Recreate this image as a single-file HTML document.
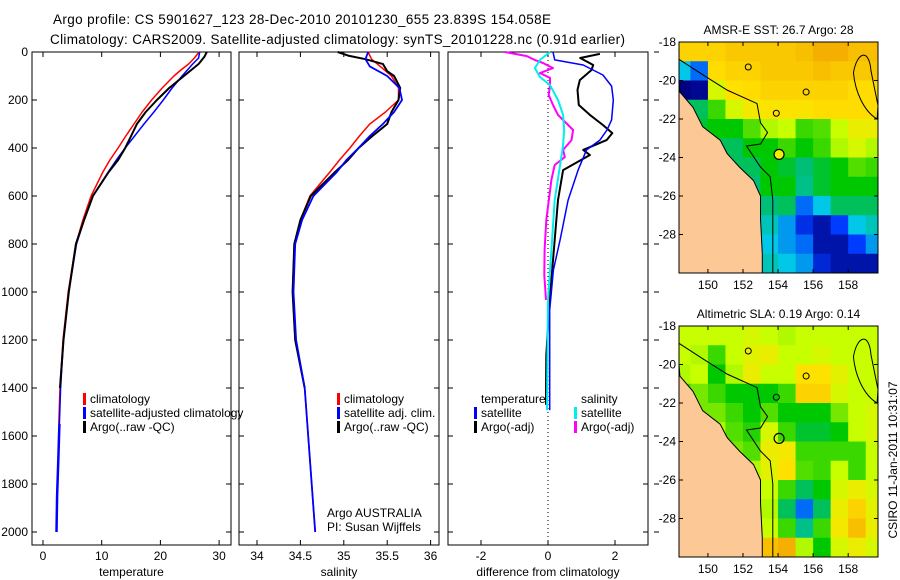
<!DOCTYPE html>
<html><head><meta charset="utf-8"><style>
body{margin:0;background:#fff}
svg{display:block;font-family:"Liberation Sans",sans-serif}
</style></head><body>
<svg id="s" width="900" height="580" viewBox="0 0 900 580" xmlns="http://www.w3.org/2000/svg">
<text x="53" y="24" font-size="13.5" textLength="498">Argo profile: CS 5901627_123 28-Dec-2010 20101230_655 23.839S 154.058E</text>
<text x="50" y="44" font-size="13.5" textLength="575">Climatology: CARS2009. Satellite-adjusted climatology: synTS_20101228.nc (0.91d earlier)</text>
<g id="g"></g>
</svg>
<script>
// ---------- data ----------
const tDepth=[0,25,50,75,100,150,200,250,300,350,400,450,500,600,700,800,1000,1200,1400,1550];
const tClim=[26.6,25.8,24.8,23.5,22.3,20.3,18.5,16.9,15.5,14.1,12.8,11.4,10.2,8.2,6.8,5.6,4.3,3.4,2.9,2.7];
const tSat=[26.7,26.5,25.5,24.6,23.7,22.0,20.5,18.9,17.2,15.6,14.0,12.5,11.1,8.5,7.0,5.7,4.4,3.5,3.0,2.8];
const aDepth=[0,20,50,100,150,200,250,300,350,400,450,500,600,700,800,1000,1200,1400];
const tArgo=[27.9,27.5,26.5,24.0,21.5,19.4,17.5,16.0,15.0,14.0,12.8,11.2,8.5,7.0,5.6,4.4,3.5,2.9];
const tSatDeepDepth=[1550,1700,1850,2000];
const tSatDeep=[2.8,2.6,2.4,2.3];
const sDepth=[0,30,60,100,150,200,250,300,350,400,450,500,600,700,800,1000,1200,1400,1600,1800,2000];
const sClim=[35.28,35.32,35.42,35.55,35.63,35.63,35.48,35.30,35.18,35.07,34.95,34.84,34.61,34.50,34.43,34.41,34.44,34.55,34.59,34.63,34.67];
const sSat=[35.28,35.25,35.30,35.50,35.64,35.67,35.58,35.45,35.30,35.17,35.03,34.92,34.65,34.52,34.44,34.42,34.45,34.55,34.59,34.63,34.67];
const sArgoDepth=[0,15,30,50,80,100,150,200,250,300,350,400,450,500,600,700,800,1000,1200,1400];
const sArgo=[34.93,35.05,35.25,35.45,35.50,35.58,35.65,35.63,35.55,35.50,35.33,35.17,35.05,34.90,34.62,34.50,34.43,34.41,34.44,34.55];
const dTSatDepth=[0,33,54,96,142,200,283,325,367,408,492,617,783,908,1075,1250,1492];
const dTSat=[0.15,0.2,1.05,1.64,1.9,1.95,1.9,1.76,1.55,1.15,0.9,0.6,0.36,0.16,0.05,0.05,0.05];
const dTArgoDepth=[8,25,54,75,117,158,221,262,304,338,367,408,429,492,617,783,1033,1262,1408,1470];
const dTArgo=[1.55,0.96,1.35,1.3,0.95,0.88,0.92,1.25,1.64,1.92,1.75,1.05,1.25,0.45,0.3,0.2,0.05,-0.05,-0.06,-0.06];
const dSSatDepth=[0,33,67,104,138,200,262,325,388,471,617,825,1033,1492];
const dSSat=[0.06,-0.24,-0.39,-0.24,0.06,0.3,0.45,0.48,0.45,0.36,0.2,0.1,0.0,-0.03];
const dSArgoDepth=[0,17,33,46,67,88,108,138,179,221,262,304,325,367,408,438,471,533,700,825,929,1033];
const dSArgo=[-1.28,-0.63,-0.4,-0.15,0.15,-0.24,0.06,0.06,0.02,0.15,0.3,0.6,0.75,0.7,0.45,0.5,0.2,0.1,-0.05,-0.1,-0.11,-0.06];
const depthTicks=[0,200,400,600,800,1000,1200,1400,1600,1800,2000];
const tTicks=[0,10,20,30], sTicks=[34,34.5,35,35.5,36], dTicks=[-2,0,2];
const latTicks=[18,20,22,24,26,28], lonTicks=[150,152,154,156,158];
const lonCells=[148.35,149,150,151,152,153,154,155,156,157,158,159,159.7];
const latCells=[18,19,20,21,22,23,24,25,26,27,28,29,30];
const sstGrid=[
[0.88,0.88,0.88,0.9,0.9,0.9,0.9,0.92,0.95,0.95,0.92,0.92],
[0.3,0.2,0.86,0.88,0.88,0.9,0.9,0.9,0.92,0.9,0.9,0.9],
[0.0,0.02,0.75,0.85,0.86,0.88,0.88,0.88,0.88,0.88,0.86,0.86],
[0.45,0.45,0.6,0.75,0.82,0.84,0.84,0.84,0.86,0.86,0.86,0.86],
[0.5,0.5,0.55,0.55,0.62,0.7,0.72,0.6,0.62,0.72,0.8,0.8],
[0.45,0.45,0.45,0.45,0.55,0.55,0.6,0.55,0.6,0.7,0.75,0.7],
[0.45,0.45,0.45,0.45,0.45,0.55,0.5,0.42,0.5,0.55,0.62,0.6],
[0.42,0.42,0.42,0.42,0.42,0.55,0.55,0.4,0.5,0.55,0.55,0.55],
[0.38,0.38,0.38,0.38,0.38,0.42,0.45,0.2,0.3,0.45,0.45,0.45],
[0.35,0.35,0.35,0.35,0.35,0.35,0.25,0.12,0.05,0.15,0.3,0.35],
[0.38,0.38,0.38,0.38,0.38,0.3,0.25,0.2,0.05,0.05,0.15,0.25],
[0.4,0.4,0.4,0.4,0.4,0.35,0.3,0.25,0.1,0.05,0.05,0.05]];
const slaGrid=[
[0.72,0.72,0.72,0.72,0.75,0.72,0.7,0.72,0.72,0.72,0.72,0.72],
[0.72,0.7,0.6,0.72,0.78,0.8,0.72,0.72,0.75,0.72,0.72,0.72],
[0.7,0.72,0.55,0.7,0.8,0.72,0.72,0.85,0.85,0.78,0.72,0.72],
[0.6,0.65,0.6,0.55,0.55,0.55,0.6,0.88,0.88,0.75,0.72,0.72],
[0.65,0.65,0.65,0.6,0.55,0.62,0.55,0.55,0.55,0.65,0.72,0.75],
[0.7,0.7,0.7,0.62,0.58,0.75,0.6,0.5,0.5,0.55,0.72,0.75],
[0.7,0.7,0.7,0.65,0.62,0.8,0.82,0.6,0.6,0.6,0.6,0.72],
[0.72,0.72,0.72,0.72,0.7,0.78,0.85,0.62,0.6,0.72,0.6,0.72],
[0.8,0.8,0.8,0.78,0.78,0.72,0.6,0.45,0.55,0.75,0.8,0.75],
[0.85,0.85,0.85,0.82,0.8,0.7,0.45,0.2,0.45,0.8,0.88,0.78],
[0.85,0.85,0.85,0.82,0.82,0.72,0.6,0.4,0.6,0.82,0.92,0.8],
[0.85,0.85,0.85,0.85,0.82,0.92,0.95,0.7,0.55,0.75,0.8,0.75]];
const coastLon=[148.35,148.4,149.15,149.7,150.7,151.1,151.8,152.6,153.0,153.0,153.1,153.1];
const coastLat=[20.0,20.6,21.4,22.4,23.1,23.8,24.5,25.2,26.0,27.2,29.0,30.0];
const shelfLon=[148.35,149.7,151.1,152.8,153.0,153.4,153.0,152.2,153.0,153.55,153.7,153.7];
const shelfLat=[18.9,19.7,20.5,21.2,22.2,22.7,23.3,23.4,24.5,25.0,26.2,30.0];
const floatLon=154.058, floatLat=23.839;

// ---------- helpers ----------
const NS="http://www.w3.org/2000/svg";
const G=document.getElementById('g');
function mk(tag,attrs,parent){const e=document.createElementNS(NS,tag);for(const k in attrs)e.setAttribute(k,attrs[k]);(parent||G).appendChild(e);return e;}
const Y0=52, YS=0.24, PB=545;
const yD=d=>Y0+d*YS;
const panels=[
 {x0:32,x1:231,f:v=>43+v*5.87,ticks:tTicks,label:'temperature',name:'temperature-panel'},
 {x0:239,x1:439,f:v=>257+(v-34)*86.8,ticks:sTicks,label:'salinity',name:'salinity-panel'},
 {x0:448,x1:648,f:v=>548+v*33.5,ticks:dTicks,label:'difference from climatology',name:'difference-panel'}];
function line(fx,xs,ds,color,w,name){
  const pts=xs.map((v,i)=>fx(v).toFixed(1)+','+yD(ds[i]).toFixed(1)).join(' ');
  const p=mk('polyline',{points:pts,fill:'none',stroke:color,'stroke-width':w,'stroke-linejoin':'round'});
  
  
}
panels.forEach((P,pi)=>{
  const r=mk('rect',{x:P.x0,y:Y0,width:P.x1-P.x0,height:PB-Y0,fill:'#fff',stroke:'#000','stroke-width':1});
  
  
  depthTicks.forEach(d=>{
    mk('line',{x1:P.x0,x2:P.x0+5,y1:yD(d),y2:yD(d),stroke:'#000'});
    mk('line',{x1:P.x1,x2:P.x1-5,y1:yD(d),y2:yD(d),stroke:'#000'});
    if(pi==2) mk('line',{x1:P.x1+6,x2:P.x1+11,y1:yD(d),y2:yD(d),stroke:'#000'});
    if(pi==0){const t=mk('text',{x:P.x0-4,y:yD(d)+4,'font-size':12,'text-anchor':'end'});t.textContent=d;
      
      }
  });
  P.ticks.forEach(v=>{
    const x=P.f(v);
    mk('line',{x1:x,x2:x,y1:PB,y2:PB-5,stroke:'#000'});
    mk('line',{x1:x,x2:x,y1:Y0,y2:Y0+5,stroke:'#000'});
    const t=mk('text',{x:x,y:560,'font-size':12,'text-anchor':'middle'});t.textContent=v;
    
    
  });
  const t=mk('text',{x:(P.x0+P.x1)/2,y:576,'font-size':12,'text-anchor':'middle'});t.textContent=P.label;
  
  
});
const [P1,P2,P3]=panels;
line(P1.f,tClim,tDepth,'#f00',1.5,'temperature-climatology-line');
line(P1.f,tSat,tDepth,'#00f',1.5,'temperature-satellite-line');
line(P1.f,tArgo,aDepth,'#000',2,'temperature-argo-line');
line(P1.f,tSatDeep,tSatDeepDepth,'#00f',2.5,'temperature-satellite-deep-line');
line(P2.f,sClim,sDepth,'#f00',1.5,'salinity-climatology-line');
line(P2.f,sArgo,sArgoDepth,'#000',2,'salinity-argo-line');
line(P2.f,sSat,sDepth,'#00f',1.8,'salinity-satellite-line');
mk('line',{x1:548,x2:548,y1:Y0,y2:PB,stroke:'#000','stroke-dasharray':'1,3'});
line(P3.f,dTArgo,dTArgoDepth,'#000',2,'diff-temp-argo-line');
line(P3.f,dSArgo,dSArgoDepth,'#f0f',2,'diff-sal-argo-line');
line(P3.f,dTSat,dTSatDepth,'#00f',1.5,'diff-temp-satellite-line');
line(P3.f,dSSat,dSSatDepth,'#0ee',2,'diff-sal-satellite-line');

function legend(x,y,items,name){
  items.forEach((it,i)=>{
    if(it[1]) mk('rect',{x:x,y:y+i*14-10,width:3,height:12,fill:it[1]});
    const t=mk('text',{x:x+7,y:y+i*14,'font-size':12});t.textContent=it[0];
    
    
  });
}
legend(83,403,[['climatology','#f00'],['satellite-adjusted climatology','#00f'],['Argo(..raw -QC)','#000']],'temperature-legend');
legend(337,403,[['climatology','#f00'],['satellite adj. clim.','#00f'],['Argo(..raw -QC)','#000']],'salinity-legend');
legend(474,403,[['temperature',null],['satellite','#00f'],['Argo(-adj)','#000']],'diff-temp-legend');
legend(574,403,[['salinity',null],['satellite','#0ee'],['Argo(-adj)','#f0f']],'diff-sal-legend');
let t=mk('text',{x:327,y:517,'font-size':12});t.textContent='Argo AUSTRALIA';
t=mk('text',{x:327,y:531,'font-size':12});t.textContent='PI: Susan Wijffels';

// ---------- maps ----------
const stops=[[0,[0,0,128]],[0.15,[0,60,255]],[0.3,[0,200,230]],[0.42,[0,190,120]],[0.55,[0,200,0]],[0.72,[200,255,0]],[0.85,[255,225,0]],[1,[240,150,0]]];
function cmap(v){for(let i=1;i<stops.length;i++){if(v<=stops[i][0]){const a=stops[i-1],b=stops[i],f=(v-a[0])/(b[0]-a[0]);return 'rgb('+a[1].map((c,k)=>Math.round(c+(b[1][k]-c)*f)).join(',')+')';}}return 'rgb(240,150,0)';}
function drawMap(top,grid,title,name,markFill){
  const X0=679,X1=878,Yt=top,Yb=top+231;
  const lx=l=>X0+(l-148.35)*(X1-X0)/(159.7-148.35);
  const ly=l=>Yt+(l-18)*(Yb-Yt)/12;
  grid.forEach((row,r)=>row.forEach((v,c)=>{
    const x=lx(lonCells[c]),y=ly(latCells[r]);
    const cell=mk('rect',{x:x,y:y,width:lx(lonCells[c+1])-x+0.5,height:ly(latCells[r+1])-y+0.5,fill:cmap(v)});
    
    
  }));
  let pts=coastLon.map((l,i)=>lx(l)+','+ly(coastLat[i])).join(' ');
  const land=mk('polygon',{points:pts+' '+X0+','+Yb,fill:'#fcc996',stroke:'#000','stroke-width':1});
  
  
  mk('polyline',{points:shelfLon.map((l,i)=>lx(l)+','+ly(shelfLat[i])).join(' '),fill:'none',stroke:'#000','stroke-width':1});
  mk('path',{d:`M${lx(158.3)},${ly(19.6)} C${lx(158.5)},${ly(18.5)} ${lx(159.2)},${ly(18.3)} ${lx(159.3)},${ly(19.5)} L${lx(159.7)},${ly(21.3)} L${lx(159.65)},${ly(22.0)} C${lx(158.9)},${ly(21.6)} ${lx(158.4)},${ly(20.6)} ${lx(158.3)},${ly(19.6)}Z`,fill:'none',stroke:'#000'});
  [[152.3,19.3],[153.9,21.7],[155.6,20.6]].forEach(p=>mk('ellipse',{cx:lx(p[0]),cy:ly(p[1]),rx:3,ry:3,fill:'none',stroke:'#000'}));
  const c=mk('circle',{cx:lx(floatLon),cy:ly(floatLat),r:5,fill:markFill,stroke:'#000','stroke-width':1.2});
  
  
  const fr=mk('rect',{x:X0,y:Yt,width:X1-X0,height:Yb-Yt,fill:'none',stroke:'#000'});
  
  
  latTicks.forEach(l=>{const y=ly(l);mk('line',{x1:X0,x2:X0+4,y1:y,y2:y,stroke:'#000'});mk('line',{x1:X1,x2:X1-4,y1:y,y2:y,stroke:'#000'});
    const tt=mk('text',{x:X0-3,y:y+4,'font-size':12,'text-anchor':'end'});tt.textContent='-'+l;
    
    });
  lonTicks.forEach(l=>{const x=lx(l);mk('line',{x1:x,x2:x,y1:Yb,y2:Yb-4,stroke:'#000'});mk('line',{x1:x,x2:x,y1:Yt,y2:Yt+4,stroke:'#000'});
    const tt=mk('text',{x:x,y:Yb+16,'font-size':12,'text-anchor':'middle'});tt.textContent=l;
    
    });
  const tt=mk('text',{x:(X0+X1)/2,y:Yt-8,'font-size':12,'text-anchor':'middle'});tt.textContent=title;
  
  
}
drawMap(42,sstGrid,'AMSR-E SST: 26.7 Argo: 28','sst-map','#f0f000');
drawMap(326,slaGrid,'Altimetric SLA: 0.19 Argo: 0.14','sla-map','none');
t=mk('text',{x:0,y:0,'font-size':12,'text-anchor':'middle',transform:'translate(897,460) rotate(-90)'});t.textContent='CSIRO 11-Jan-2011 10:31:07';


</script>
</body></html>
